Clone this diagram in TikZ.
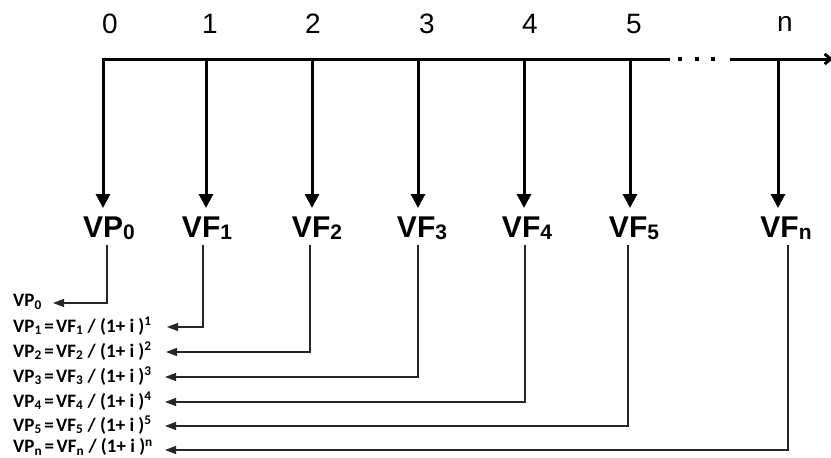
\documentclass[tikz,border=0pt]{standalone}
\usepackage{fontspec}
\setmainfont{Liberation Sans}
\newfontfamily\rowfont{Carlito}
\usetikzlibrary{arrows.meta}
\tikzset{
  numlbl/.style={inner sep=0pt, font=\fontsize{28}{30}\selectfont},
  vlbl/.style={inner sep=0pt, anchor=base, font=\fontsize{30}{32}\selectfont\bfseries},
  rowlbl/.style={inner sep=0pt, anchor=west, font=\rowfont\fontsize{19}{20}\selectfont\bfseries},
  axisline/.style={line width=3pt, black},
  bigarrow/.style={line width=3pt, -{Triangle[width=14pt,length=14pt]}},
  smallarrow/.style={line width=1.1pt, black!85, -{Triangle[width=8pt,length=11pt]}},
}
\newcommand{\vsub}[1]{\raisebox{-2pt}{\fontsize{21}{21}\selectfont #1}}
\newcommand{\eqsp}{\hspace{2.5pt}}
\begin{document}
\begin{tikzpicture}[x=1pt,y=-1pt]
\useasboundingbox (0,0) rectangle (831,458);
% top numbers
\node[numlbl] (t0) at (110,24) {0};
\node[numlbl] (t1) at (210,24) {1};
\node[numlbl] (t2) at (313,24) {2};
\node[numlbl] (t3) at (427,24) {3};
\node[numlbl] (t4) at (530,24) {4};
\node[numlbl] (t5) at (634,24) {5};
\node[numlbl] (tn) at (785,24) {n};
% axis
\coordinate (k0) at (103,59);
\coordinate (k1) at (206,59);
\coordinate (k2) at (312,59);
\coordinate (k3) at (418,59);
\coordinate (k4) at (524,59);
\coordinate (k5) at (630,59);
\coordinate (kn) at (778,59);
\coordinate (brk1) at (670,59);
\coordinate (brk2) at (730,59);
\coordinate (aend) at (833,59);
\draw[axisline] (k0) -- (brk1);
\draw[line width=3.5pt, dash pattern=on 4pt off 12.5pt] (678,59) -- (716,59);
\draw[axisline, -{Straight Barb[length=6pt,width=10pt]}] (brk2) -- (aend);
% VP/VF labels
\node[vlbl] (v0) at (109,237) {VP\vsub{0}};
\node[vlbl] (v1) at (207,237) {VF\vsub{1}};
\node[vlbl] (v2) at (317,237) {VF\vsub{2}};
\node[vlbl] (v3) at (422,237) {VF\vsub{3}};
\node[vlbl] (v4) at (527,237) {VF\vsub{4}};
\node[vlbl] (v5) at (634,237) {VF\vsub{5}};
\node[vlbl] (vn) at (786,237) {VF\vsub{n}};
% big arrows
\foreach \k in {0,1,2,3,4,5,n} {
  \draw[bigarrow] ([yshift=1.5pt]k\k) -- ([yshift=-149pt]k\k);
}
% bottom rows
\node[rowlbl] (r0) at (13,302) {VP\textsubscript{0}};
\node[rowlbl] (r1) at (13,326) {VP\textsubscript{1}\eqsp=\eqsp VF\textsubscript{1} / (1+ i )\textsuperscript{1}};
\node[rowlbl] (r2) at (13,351) {VP\textsubscript{2}\eqsp=\eqsp VF\textsubscript{2} / (1+ i )\textsuperscript{2}};
\node[rowlbl] (r3) at (13,376) {VP\textsubscript{3}\eqsp=\eqsp VF\textsubscript{3} / (1+ i )\textsuperscript{3}};
\node[rowlbl] (r4) at (13,401) {VP\textsubscript{4}\eqsp=\eqsp VF\textsubscript{4} / (1+ i )\textsuperscript{4}};
\node[rowlbl] (r5) at (13,425) {VP\textsubscript{5}\eqsp=\eqsp VF\textsubscript{5} / (1+ i )\textsuperscript{5}};
\node[rowlbl] (rn) at (13,447) {VP\textsubscript{n}\eqsp=\eqsp VF\textsubscript{n} / (1+ i )\textsuperscript{n}};
% thin connectors
\coordinate (b0) at (107,245);
\coordinate (b1) at (203,245);
\coordinate (b2) at (310,245);
\coordinate (b3) at (418,245);
\coordinate (b4) at (525,245);
\coordinate (b5) at (628,245);
\coordinate (bn) at (788,245);
\coordinate (e0) at (53,303);
\coordinate (e1) at (167,327);
\coordinate (e2) at (166,352);
\coordinate (e3) at (165,377);
\coordinate (e4) at (165,402);
\coordinate (e5) at (165,426);
\coordinate (en) at (165,450);
\foreach \k in {0,1,2,3,4,5,n} {
  \draw[smallarrow] (b\k) |- (e\k);
}
\end{tikzpicture}
\end{document}
